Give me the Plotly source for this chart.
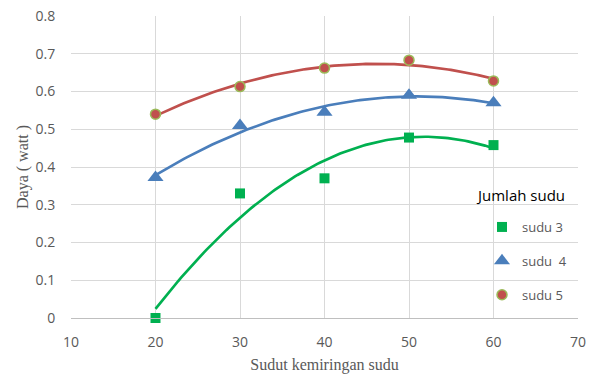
import numpy as np
import plotly.graph_objects as go

sudut = [20, 30, 40, 50, 60]
sudu3 = [0.0, 0.33, 0.37, 0.478, 0.458]
sudu4 = [0.372, 0.51, 0.545, 0.59, 0.57]
sudu5 = [0.54, 0.613, 0.662, 0.683, 0.628]

series = [
    ("sudu 3", sudu3, "#00B050", dict(symbol="square", size=10, color="#00B050")),
    ("sudu\u00a0 4", sudu4, "#4A7EBB", dict(symbol="triangle-up", size=14, color="#4A7EBB")),
    ("sudu 5", sudu5, "#C0504D", dict(symbol="circle", size=10, color="#C0504D",
                                       line=dict(color="#9BBB59", width=1.5))),
]

fig = go.Figure()
xs = np.linspace(min(sudut), max(sudut), 120)
for name, ys, col, mk in series:
    coef = np.polyfit(sudut, ys, 2)
    fig.add_trace(go.Scatter(x=xs, y=np.polyval(coef, xs), mode="lines",
                             line=dict(color=col, width=2.7), showlegend=False,
                             hoverinfo="skip"))
for i, (name, ys, col, mk) in enumerate(series):
    fig.add_trace(go.Scatter(x=sudut, y=ys, mode="markers", name=name, marker=mk,
                             cliponaxis=False, legendgroup=f"g{i}"))

tickfont = dict(family="Open Sans, Noto Sans, sans-serif", size=14, color="#595959")
titlefont = dict(family="Liberation Serif, serif", size=16, color="#595959")

L, R, T, B = 71, 14, 16, 56
W, H = 592, 374
pw, ph = W - L - R, H - T - B

def px_x(p):
    return (p - L) / pw

def px_y(p):
    return (H - B - p) / ph

fig.update_layout(
    width=W, height=H,
    margin=dict(l=L, r=R, t=T, b=B, autoexpand=False),
    paper_bgcolor="white", plot_bgcolor="white",
    xaxis=dict(range=[10, 70], dtick=10, tick0=10, showgrid=True, gridcolor="#D9D9D9",
               gridwidth=1, showline=True, linecolor="#BFBFBF", linewidth=1,
               zeroline=False, ticks="outside", ticklen=11, tickcolor="rgba(0,0,0,0)",
               tickfont=tickfont, automargin=False,
               title=dict(text="Sudut kemiringan sudu", font=titlefont, standoff=9)),
    yaxis=dict(range=[0, 0.8], dtick=0.1, showgrid=True, gridcolor="#D9D9D9",
               gridwidth=1, zeroline=False, ticks="outside", ticklen=12,
               tickcolor="rgba(0,0,0,0)", tickfont=tickfont, automargin=False,
               title=dict(text="Daya ( watt )", font=titlefont, standoff=2)),
    legend=dict(x=px_x(482), y=px_y(212), xanchor="left", yanchor="top",
                bgcolor="rgba(0,0,0,0)", traceorder="grouped", tracegroupgap=14,
                itemwidth=30,
                font=dict(family="Open Sans, Noto Sans, sans-serif", size=13, color="#595959")),
    annotations=[dict(text="Jumlah sudu", x=px_x(474), y=px_y(195), xref="paper", yref="paper",
                      xanchor="left", yanchor="middle", showarrow=False,
                      font=dict(family="Open Sans, Noto Sans, sans-serif", size=15, color="#000000"))],
    showlegend=True,
)

fig.write_html("out.html", config={"displayModeBar": False},
               post_script="document.body.style.margin='0';document.body.style.overflow='hidden';")
